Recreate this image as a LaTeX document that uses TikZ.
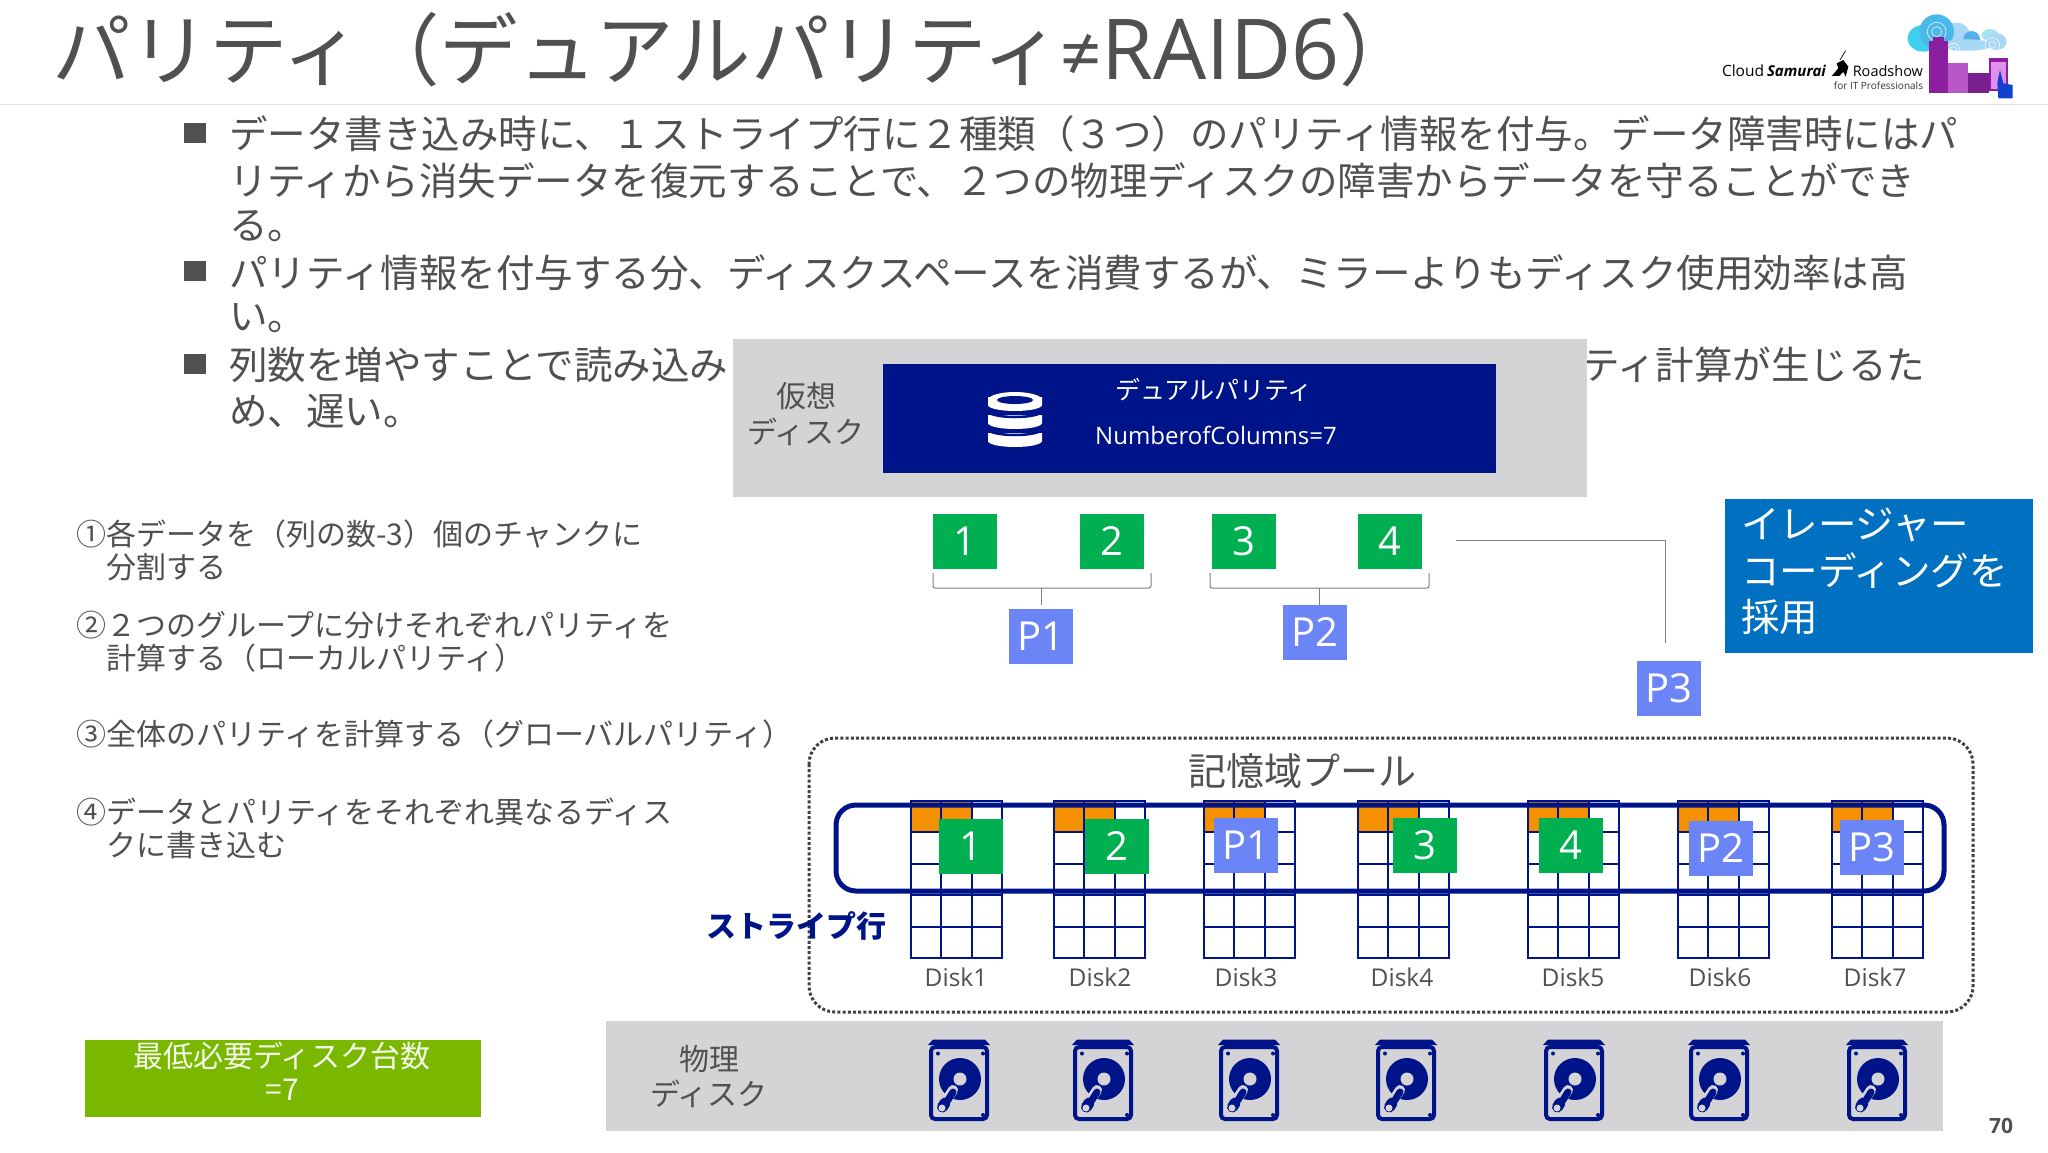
\documentclass[tikz,border=0pt]{standalone}
\usepackage{fontspec}
\setmainfont{Noto Sans CJK JP}
\newfontfamily\latinf{Open Sans}
\usetikzlibrary{calc}
\definecolor{navy}{HTML}{001489}
\definecolor{grayb}{HTML}{D4D4D6}
\definecolor{greenc}{HTML}{00B050}
\definecolor{parc}{HTML}{6B85F7}
\definecolor{orangec}{HTML}{F59100}
\definecolor{bluebox}{HTML}{0070C0}
\definecolor{limec}{HTML}{7AB800}
\definecolor{txtc}{HTML}{505050}
\definecolor{cla}{HTML}{A8D8F5}
\definecolor{clb}{HTML}{4AB8E8}
\definecolor{clc}{HTML}{58AFEF}
\definecolor{cld}{HTML}{A6E4F2}
\definecolor{cle}{HTML}{3FD0F0}
\definecolor{pua}{HTML}{8B1FA0}
\definecolor{pub}{HTML}{B857C8}
\definecolor{puc}{HTML}{7A1F90}
\definecolor{pud}{HTML}{DD90EC}
\definecolor{hand}{HTML}{1040D0}
\newcommand{\fs}[1]{\fontsize{#1}{#1}\selectfont}
\tikzset{
 every node/.style={inner sep=0pt,outer sep=0pt},
 bodyline/.style={anchor=west,text=txtc,font=\fs{38.5},yshift=-1.5pt},
 leftline/.style={anchor=west,text=txtc,font=\fs{30}},
 chunkgreen/.style={fill=greenc,minimum width=64pt,minimum height=55pt,text=white,font=\latinf\fs{40}},
 chunkpar/.style={fill=parc,minimum width=64pt,minimum height=55pt,text=white,font=\latinf\fs{40}},
 disklabel/.style={text=txtc,font=\latinf\fs{24.5}},
 bulletbox/.style={fill=txtc,minimum width=22pt,minimum height=20pt},
 gridline/.style={draw=navy,line width=2pt},
 bracketline/.style={draw=black!50,line width=1pt},
 hdd/.pic={
  \fill[navy] (-26,-41.5)--(26,-41.5)--(31,-36)--(-31,-36)--cycle;
  \draw[navy,line width=4pt,rounded corners=4pt] (-28,-34) rectangle (28,38);
  \fill[navy] (1,-2) circle (21);
  \fill[grayb] (1,-2) circle (6.5);
  \fill[navy] (-21,-27.5) circle (2) (24,-27.5) circle (2) (24,34) circle (2);
  \draw[grayb,line width=10pt,line cap=round] (-6,9)--(-18,27);
  \draw[navy,line width=7pt,line cap=round] (-6,11)--(-11,19);
  \draw[navy,line width=11pt,line cap=round] (-14,22)--(-16.5,26);
  \fill[grayb] (-17,27) circle (3.5);
 }
}
\begin{document}
\begin{tikzpicture}[x=1pt,y=-1pt]
\useasboundingbox (0,0) rectangle (2048,1152);
\fill[white] (0,0) rectangle (2048,1152);
\draw[black!12,line width=1pt] (0,104)--(2048,104);
\node[anchor=west,text=txtc,font=\fs{78.5}] (title) at (52,50) {パリティ（デュアルパリティ{\latinf\fs{72}≠\fs{84}RAID6}）};
% bullets
\node[bulletbox] (b1) at (195,133) {};
\node[bulletbox] (b2) at (195,271) {};
\node[bulletbox] (b3) at (195,364) {};
\node[bodyline] (l1) at (229,132) {データ書き込み時に、１ストライプ行に２種類（３つ）のパリティ情報を付与。データ障害時にはパ};
\node[bodyline] (l2) at (229,179) {リティから消失データを復元することで、２つの物理ディスクの障害からデータを守ることができ};
\node[bodyline] (l3) at (229,225) {る。};
\node[bodyline] (l4) at (229,271) {パリティ情報を付与する分、ディスクスペースを消費するが、ミラーよりもディスク使用効率は高};
\node[bodyline] (l5) at (229,317) {い。};
\node[bodyline] (l6) at (229,363) {列数を増やすことで読み込み};
\node[bodyline] (l6b) at (1581,363) {ティ計算が生じるた};
\node[bodyline] (l7) at (229,410) {め、遅い。};
% virtual disk
\node[fill=grayb,minimum width=854pt,minimum height=158pt,anchor=north west] (vbox) at (733,339) {};
\node[fill=navy,minimum width=613pt,minimum height=109pt,anchor=north west] (vnavy) at (883,364) {};
\node[text=txtc,font=\fs{30}] (kaso) at (806,396) {仮想};
\node[text=txtc,font=\fs{30}] (kasod) at (806,432) {ディスク};
\node[text=white,font=\fs{25}] (dual) at (1214,390) {デュアルパリティ};
\node[text=white,font=\latinf\fs{24}] (ncol) at (1216,435) {NumberofColumns=7};
% db icon
\begin{scope}[shift={(1015,0)}]
 \foreach \yy in {441,423,405}{
  \fill[white] (-27,\yy-8) -- (-27,\yy) arc[start angle=180,end angle=360,x radius=27,y radius=-6] -- (27,\yy-8) -- cycle;
 }
 \foreach \yy in {429,411}{
  \draw[navy,line width=2.5pt] (-27,\yy) arc[start angle=180,end angle=360,x radius=27,y radius=-6];
 }
 \fill[white] (0,400) ellipse (27 and 8);
 \fill[navy] (0,400) ellipse (18 and 4);
\end{scope}
% data chunks
\node[chunkgreen] (d1) at (965,541.5) {1};
\node[chunkgreen] (d2) at (1112,541.5) {2};
\node[chunkgreen] (d3) at (1244,541.5) {3};
\node[chunkgreen] (d4) at (1390,541.5) {4};
\node[chunkpar] (p1) at (1041,636) {P1};
\node[chunkpar] (p2) at (1314.5,632.5) {P2};
\node[chunkpar] (p3) at (1669,688.5) {P3};
\coordinate (bl1) at (933,573); \coordinate (br1) at (1151,573); \coordinate (bt1) at (1041.5,605);
\coordinate (bl2) at (1210,573); \coordinate (br2) at (1429,573); \coordinate (bt2) at (1319.5,605);
\draw[bracketline,rounded corners=2pt] (bl1)--(933,588)--(1151,588)--(br1);
\draw[bracketline] (1041.5,588)--(bt1);
\draw[bracketline,rounded corners=2pt] (bl2)--(1210,588)--(1429,588)--(br2);
\draw[bracketline] (1319.5,588)--(bt2);
\coordinate (p3start) at (1456,540);
\coordinate (p3end) at (1665,643);
\draw[bracketline] (p3start)--(1665,540)--(p3end);
% blue box
\node[fill=bluebox,minimum width=308pt,minimum height=154pt,anchor=north west] (ec) at (1725,499) {};
\node[anchor=west,text=white,font=\fs{38.5}] (ec1) at (1741,525) {イレージャー};
\node[anchor=west,text=white,font=\fs{38.5}] (ec2) at (1741,571) {コーディングを};
\node[anchor=west,text=white,font=\fs{38.5}] (ec3) at (1741,617) {採用};
% left text
\node[leftline] (t1) at (76,534) {①各データを（列の数-3）個のチャンクに};
\node[leftline] (t1b) at (106,567) {分割する};
\node[leftline] (t2) at (76,625) {②２つのグループに分けそれぞれパリティを};
\node[leftline] (t2b) at (106,658) {計算する（ローカルパリティ）};
\node[leftline] (t3) at (76,734) {③全体のパリティを計算する（グローバルパリティ）};
\node[leftline] (t4) at (76,812) {④データとパリティをそれぞれ異なるディス};
\node[leftline] (t4b) at (106,845) {クに書き込む};
% pool
\draw[black!75,line width=3pt,dash pattern=on 3pt off 2.2pt,rounded corners=26pt] (809,738) rectangle (1973,1012);
\node[text=txtc,font=\fs{38}] (pool) at (1302,771) {記憶域プール};
% disks
\foreach \dx in {911,1054,1204,1358,1528,1678,1832}{
 \fill[orangec] (\dx,801) rectangle (\dx+61,832);
 \fill[navy!25] (\dx,891) rectangle (\dx+91.2,895);
 \draw[gridline] (\dx,801) rectangle (\dx+91.2,958);
 \foreach \k in {1,2}{\draw[gridline] (\dx+30.4*\k,801)--(\dx+30.4*\k,958);}
 \foreach \k in {1,...,4}{\draw[gridline] (\dx,801+31.4*\k)--(\dx+91.2,801+31.4*\k);}
}
\draw[navy,line width=5pt,rounded corners=20pt] (836,805) rectangle (1944,891);
\node[chunkgreen] (s1) at (971,846.5) {1};
\node[chunkgreen] (s2) at (1117,846.5) {2};
\node[chunkpar] (s3) at (1246,845.5) {P1};
\node[chunkgreen] (s4) at (1425,845) {3};
\node[chunkgreen] (s5) at (1571,845) {4};
\node[chunkpar] (s6) at (1721,848) {P2};
\node[chunkpar] (s7) at (1872,847) {P3};
\node[disklabel] (n1) at (956,977) {Disk1};
\node[disklabel] (n2) at (1100,977) {Disk2};
\node[disklabel] (n3) at (1246,977) {Disk3};
\node[disklabel] (n4) at (1402,977) {Disk4};
\node[disklabel] (n5) at (1573,977) {Disk5};
\node[disklabel] (n6) at (1720,977) {Disk6};
\node[disklabel] (n7) at (1875,977) {Disk7};
\node[anchor=west,text=navy,font=\fs{30}\bfseries] (stripe) at (706,926) {ストライプ行};
% physical
\node[fill=grayb,minimum width=1337pt,minimum height=110pt,anchor=north west] (pbox) at (606,1021) {};
\node[text=txtc,font=\fs{30}] (phy) at (709,1059) {物理};
\node[text=txtc,font=\fs{30}] (phyd) at (709,1094) {ディスク};
\foreach \hx in {959,1103,1249,1406,1574,1719,1877}{
 \pic at (\hx,1081) {hdd};
}
% minimum
\node[fill=limec,minimum width=396pt,minimum height=77pt,anchor=north west] (minb) at (85,1040) {};
\node[text=white!92!limec,font=\fs{30}] (min1) at (282,1056) {最低必要ディスク台数};
\node[text=white!92!limec,font=\fs{30}] (min2) at (282,1090) {=7};
\node[text=txtc,font=\latinf\bfseries\fs{21}] (page) at (2001,1126) {70};
% logo
\node[anchor=west,font=\latinf\fs{15.5},text=black] (lg1) at (1722,71) {Cloud};
\node[anchor=west,font=\latinf\bfseries\itshape\fs{15},text=black] (lg1b) at (1767,71) {Samurai};
\node[anchor=east,font=\latinf\fs{14.5},text=black] (lg1c) at (1923,71) {Roadshow};
\node[anchor=east,font=\latinf\fs{10},text=black!80] (lg2) at (1923,86) {for IT Professionals};
\begin{scope}[shift={(1680,0)},x=0.3333pt,y=-0.3333pt]
 \fill[black] (470,190)--(490,180)--(505,200)--(497,230)--(490,215)--(478,228)--(455,228)--(475,205)--cycle;
 \draw[black,line width=0.7pt] (480,180)--(497,152);
 \fill[cle] (730,115) ellipse (47 and 40);
 \fill[cla] (830,110) ellipse (42 and 42);
 \fill[clb] (770,95) circle (52);
 \fill[clc] (875,118) circle (25);
 \fill[cld] (930,105) ellipse (25 and 18);
 \fill[cla] (950,125) ellipse (30 and 25);
 \fill[cla] (860,135) ellipse (80 and 17);
 \draw[white,line width=0.5pt] (770,95) circle (15) (770,95) circle (28) (820,150) circle (10) (820,150) circle (20) (937,135) circle (10) (937,135) circle (22);
 \fill[pua] (758,110) rectangle (793,122);
 \fill[pua] (748,122) rectangle (803,280);
 \fill[pub] (805,190) rectangle (863,280);
 \fill[puc] (865,218) rectangle (928,280);
 \fill[pua] (928,175) rectangle (984,272);
 \fill[pud] (933,186) rectangle (979,266);
 \fill[hand] (955,295)--(952,250)--(960,210)--(970,250)--(998,255)--(998,295)--cycle;
\end{scope}
\end{tikzpicture}
\end{document}
